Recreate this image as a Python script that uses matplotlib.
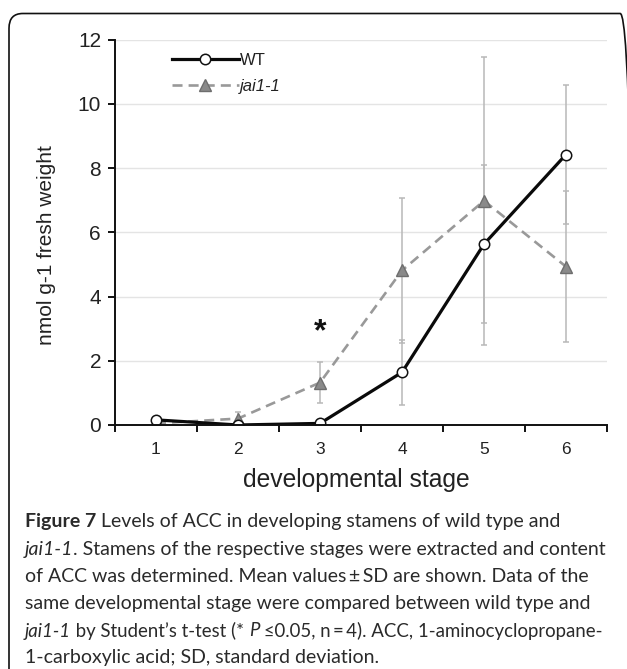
import matplotlib
matplotlib.use("Agg")
import matplotlib.pyplot as plt
from matplotlib.patches import FancyBboxPatch
import numpy as np

# ---------------- data ----------------
stages = [1, 2, 3, 4, 5, 6]
stage_labels = ["1", "2", "3", "4", "5", "6"]
wt_mean = [0.16, 0.0, 0.05, 1.64, 5.63, 8.42]
wt_sd = [0.05, 0.01, 0.02, 1.02, 2.45, 2.16]
jai_mean = [0.05, 0.20, 1.32, 4.81, 6.98, 4.93]
jai_sd = [0.03, 0.22, 0.64, 2.25, 4.48, 2.35]
yticks = [0, 2, 4, 6, 8, 10, 12]
signif_stage = 3
signif_y = 2.9

W, H = 627, 669
plt.rcParams['font.family'] = ['Liberation Sans', 'DejaVu Sans']
fig = plt.figure(figsize=(W / 100, H / 100), dpi=100)

def fx(px):
    return px / W

def fy(py):
    return 1 - py / H

# border
box = FancyBboxPatch((fx(9), fy(700)), fx(634) - fx(9), fy(13.5) - fy(700),
                     boxstyle="round,pad=0,rounding_size=0.022",
                     transform=fig.transFigure, fill=False, edgecolor='#111111',
                     linewidth=1.2, clip_on=False)
fig.patches.append(box)

ax_l, ax_r, ax_t, ax_b = 115, 607, 39.5, 425
ax = fig.add_axes([fx(ax_l), fy(ax_b), fx(ax_r) - fx(ax_l), fy(ax_t) - fy(ax_b)])
ax.set_xlim(0.5, 6.5)
ax.set_ylim(0, 12)
ax.patch.set_alpha(0)

for s in ['top', 'right']:
    ax.spines[s].set_visible(False)
for s in ['left', 'bottom']:
    ax.spines[s].set_linewidth(1.4)
    ax.spines[s].set_color('#111111')
    ax.spines[s].set_zorder(5)

ax.set_yticks(yticks)
ax.set_yticklabels([str(v) for v in yticks])
ax.yaxis.grid(True, color='#e4e4e4', linewidth=1.0)
ax.set_axisbelow(True)

ax.set_xticks(np.arange(0.5, 7.0, 1.0))
ax.set_xticklabels([])
ax.set_xticks(stages, minor=True)
ax.set_xticklabels(stage_labels, minor=True)
ax.tick_params(axis='x', which='major', direction='out', length=5, width=1.4, color='#111111')
ax.tick_params(axis='x', which='minor', length=0, labelsize=12.5, pad=12, labelcolor='#222222')
ax.tick_params(axis='y', direction='out', length=5, width=1.4, color='#111111',
               labelsize=15, pad=5, labelcolor='#222222')

# error bars
ax.errorbar(stages, wt_mean, yerr=wt_sd, fmt='none', ecolor='#b8b8b8',
            elinewidth=1.1, capsize=2.5, capthick=1.1, zorder=2)
ax.errorbar(stages, jai_mean, yerr=jai_sd, fmt='none', ecolor='#b8b8b8',
            elinewidth=1.1, capsize=2.5, capthick=1.1, zorder=2)

# lines
ax.plot(stages, jai_mean, color='#999999', linewidth=1.9, dashes=(3.8, 2.3),
        marker='^', markersize=8, markerfacecolor='#8a8a8a', markeredgecolor='#6e6e6e',
        markeredgewidth=1.0, label='jai1-1', zorder=3)
ax.plot(stages, wt_mean, color='#0a0a0a', linewidth=2.3,
        marker='o', markersize=7.5, markerfacecolor='white', markeredgecolor='#111111',
        markeredgewidth=1.1, label='WT', zorder=4)

ax.text(signif_stage, signif_y, '*', ha='center', va='center', fontsize=23,
        fontweight='bold', color='#111111')

handles, labels = ax.get_legend_handles_labels()
leg = ax.legend([handles[1], handles[0]], ['WT', 'jai1-1'], loc='upper left',
                bbox_to_anchor=(fx(172), fy(53)), bbox_transform=fig.transFigure,
                frameon=False, fontsize=12, handlelength=4.0, handletextpad=0.1,
                labelspacing=0.65, borderpad=0, borderaxespad=0)
for t in leg.get_texts():
    t.set_color('#222222')
leg.get_texts()[1].set_style('italic')

ax.set_xlabel('developmental stage', fontsize=17.7, color='#222222')
ax.xaxis.set_label_coords((356 - ax_l) / (ax_r - ax_l), (ax_b - 480) / (ax_b - ax_t))
ax.xaxis.label.set_va('center')
ax.set_ylabel('nmol g-1 fresh weight', fontsize=15, color='#222222')
ax.yaxis.set_label_coords((47 - ax_l) / (ax_r - ax_l), (ax_b - 245) / (ax_b - ax_t))
ax.yaxis.label.set_va('center')

# ---------------- caption ----------------
cap_font = ['Lato', 'DejaVu Sans']
cap_color = '#2a2a2a'
caption_lines = [
    [("Figure 7", 'normal', 'bold'), (" Levels of ACC in developing stamens of wild type and", 'normal', 'normal')],
    [("jai1-1", 'italic', 'normal'), (". Stamens of the respective stages were extracted and content", 'normal', 'normal')],
    [("of ACC was determined. Mean values\u2009\u00b1\u2009SD are shown. Data of the", 'normal', 'normal')],
    [("same developmental stage were compared between wild type and", 'normal', 'normal')],
    [("jai1-1", 'italic', 'normal'), (" by Student\u2019s t-test (* ", 'normal', 'normal'), ("P", 'italic', 'normal'),
     (" \u22640.05, n\u2009=\u20094). ACC, 1-aminocyclopropane-", 'normal', 'normal')],
    [("1-carboxylic acid; SD, standard deviation.", 'normal', 'normal')],
]
line_y = [522, 550, 577, 604, 631, 658]
cap_x0 = 25

renderer = fig.canvas.get_renderer()
probe_size = 12
def line_width(parts, size):
    w = 0
    for txt, st, wt in parts:
        t = fig.text(0, 0, txt, fontsize=size, family=cap_font, style=st, weight=wt)
        w += t.get_window_extent(renderer).width
        t.remove()
    return w
target_w = 605 - cap_x0
cap_size = probe_size * target_w / line_width(caption_lines[1], probe_size)

for parts, ly in zip(caption_lines, line_y):
    size = cap_size
    w = line_width(parts, size)
    if w > target_w:
        size = size * target_w / w
    x = cap_x0
    for txt, st, wt in parts:
        t = fig.text(fx(x), fy(ly), txt, fontsize=size, family=cap_font, style=st,
                     weight=wt, color=cap_color, va='center')
        x += t.get_window_extent(renderer).width

fig.savefig('out.png', dpi=100)
